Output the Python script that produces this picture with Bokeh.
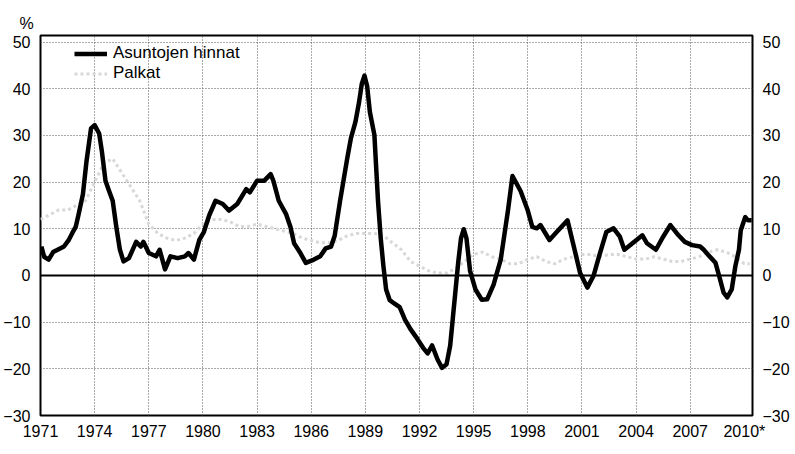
from bokeh.plotting import figure
from bokeh.models import (FixedTicker, LinearAxis, Span, Legend, LegendItem,
                          Title, Range1d)
from bokeh.embed import file_html
from bokeh.resources import INLINE

# Asuntojen hinnat (house prices, yearly change %)
house_x = [1971.05, 1971.2, 1971.45, 1971.7, 1971.95, 1972.3, 1972.55, 1972.75, 1972.95,
           1973.1, 1973.35, 1973.55, 1973.8, 1974.0, 1974.25, 1974.4, 1974.6, 1974.8,
           1975.0, 1975.2, 1975.4, 1975.6, 1975.9, 1976.3, 1976.55, 1976.7, 1977.0,
           1977.4, 1977.6, 1977.9, 1978.2, 1978.6, 1979.0, 1979.2, 1979.5, 1979.8,
           1980.05, 1980.35, 1980.7, 1981.1, 1981.45, 1981.9, 1982.4, 1982.6, 1983.0,
           1983.4, 1983.75, 1983.9, 1984.2, 1984.6, 1984.85, 1985.05, 1985.4, 1985.7,
           1986.15, 1986.5, 1986.8, 1987.1, 1987.3, 1987.6, 1988.0, 1988.2, 1988.45,
           1988.65, 1988.8, 1988.95, 1989.1, 1989.25, 1989.5, 1989.7, 1989.85, 1990.0,
           1990.15, 1990.35, 1990.6, 1990.9, 1991.2, 1991.5, 1991.9, 1992.2, 1992.45,
           1992.7, 1993.0, 1993.25, 1993.5, 1993.7, 1993.85, 1994.0, 1994.15, 1994.3,
           1994.45, 1994.6, 1994.8, 1995.1, 1995.45, 1995.75, 1996.1, 1996.5, 1996.9,
           1997.15, 1997.6, 1998.0, 1998.25, 1998.5, 1998.7, 1999.2, 1999.6, 2000.2,
           2000.55, 2000.9, 2001.3, 2001.65, 2002.0, 2002.35, 2002.75, 2003.1, 2003.35,
           2003.8, 2004.35, 2004.6, 2005.1, 2005.5, 2005.9, 2006.35, 2006.7, 2007.1,
           2007.55, 2007.75, 2008.0, 2008.4, 2008.65, 2008.85, 2009.05, 2009.3, 2009.5,
           2009.7, 2009.8, 2010.05, 2010.2, 2010.4]
house_y = [6.2, 4.0, 3.4, 5.0, 5.5, 6.2, 7.5, 9.0, 10.4,
           12.9, 17.4, 24.5, 31.5, 32.2, 30.4, 26.6, 20.3, 18.1,
           16.0, 10.4, 5.5, 3.0, 3.7, 7.2, 6.2, 7.2, 4.8,
           4.1, 5.5, 1.3, 4.1, 3.7, 4.1, 4.8, 3.4, 7.6,
           9.3, 12.9, 16.0, 15.3, 13.9, 15.3, 18.5, 17.8, 20.3,
           20.3, 21.7, 20.3, 16.0, 13.2, 10.4, 6.9, 4.8, 2.7,
           3.4, 4.1, 5.8, 6.2, 8.5, 16.0, 25.2, 29.4, 32.9,
           37.1, 41.0, 42.8, 40.5, 35.0, 30.1, 16.0, 8.0, 2.0,
           -3.0, -5.3, -6.0, -6.8, -9.5, -11.5, -13.7, -15.5, -16.7,
           -15.0, -18.0, -19.8, -19.0, -15.0, -9.0, -3.0, 3.0, 8.0,
           9.9, 8.0, 1.0, -3.0, -5.2, -5.1, -2.0, 3.4, 13.9,
           21.3, 18.1, 13.9, 10.4, 10.1, 10.8, 7.6, 9.3, 11.8,
           6.2, 0.5, -2.6, 0.0, 4.8, 9.3, 10.1, 8.3, 5.5,
           6.9, 8.6, 6.9, 5.5, 8.3, 10.8, 8.6, 7.2, 6.5,
           6.2, 5.5, 4.4, 2.7, -0.8, -3.7, -4.7, -3.0, 2.0,
           5.5, 9.7, 12.5, 11.8, 11.8]

# Palkat (wages, yearly change %)
wage_x = [1971.0, 1971.5, 1972.0, 1972.5, 1973.0, 1973.5, 1974.0, 1974.5, 1975.0, 1975.5,
          1976.0, 1976.5, 1977.0, 1977.5, 1978.0, 1978.5, 1979.0, 1979.5, 1980.0, 1980.5,
          1981.0, 1981.5, 1982.0, 1982.5, 1983.0, 1983.5, 1984.0, 1984.5, 1985.0, 1985.5,
          1986.0, 1986.5, 1987.0, 1987.5, 1988.0, 1988.5, 1989.0, 1989.5, 1990.0, 1990.5,
          1991.0, 1991.5, 1992.0, 1992.5, 1993.0, 1993.5, 1994.0, 1994.5, 1995.0, 1995.5,
          1996.0, 1996.5, 1997.0, 1997.5, 1998.0, 1998.5, 1999.0, 1999.5, 2000.0, 2000.5,
          2001.0, 2001.5, 2002.0, 2002.5, 2003.0, 2003.5, 2004.0, 2004.5, 2005.0, 2005.5,
          2006.0, 2006.5, 2007.0, 2007.5, 2008.0, 2008.5, 2009.0, 2009.5, 2010.0, 2010.3]
wage_y = [12.0, 13.0, 14.0, 14.0, 15.0, 16.0, 20.0, 24.0, 25.0, 22.0,
          19.0, 16.0, 11.0, 9.0, 8.0, 7.5, 8.0, 9.0, 11.0, 12.0,
          12.0, 11.5, 10.5, 10.5, 11.0, 10.5, 10.0, 9.5, 9.0, 8.0,
          7.5, 7.0, 7.0, 7.5, 8.5, 9.0, 9.0, 9.0, 8.5, 7.0,
          5.5, 3.0, 2.0, 1.0, 0.5, 0.5, 1.5, 3.0, 4.5, 5.0,
          4.0, 3.5, 2.5, 2.5, 3.5, 4.0, 3.0, 2.5, 3.5, 4.0,
          4.5, 4.5, 4.0, 4.5, 4.5, 4.0, 3.5, 3.5, 4.0, 3.5,
          3.0, 3.0, 3.5, 4.0, 5.0, 5.5, 5.0, 4.0, 2.5, 2.5]

x_ticks = list(range(1971, 2011, 3))
x_labels = [str(t) for t in x_ticks]
x_labels[-1] = "2010*"
y_ticks = list(range(-30, 51, 10))

FONT = "Liberation Sans"

p = figure(frame_width=712, frame_height=380,
           x_range=Range1d(1971, 2010.45), y_range=Range1d(-30, 51.4),
           output_backend="svg", toolbar_location=None,
           min_border_left=38, min_border_right=38,
           min_border_top=35, min_border_bottom=26,
           background_fill_color="white", border_fill_color="white")

p.title = Title(text="%", align="left", offset=-21, standoff=8,
                text_font=FONT, text_font_size="16px", text_font_style="normal",
                text_color="black")

p.outline_line_color = "black"
p.outline_line_width = 2

# axes
p.xaxis.ticker = FixedTicker(ticks=x_ticks)
p.xaxis.major_label_overrides = {t: l for t, l in zip(x_ticks, x_labels)}
p.yaxis.ticker = FixedTicker(ticks=y_ticks)
right = LinearAxis(ticker=FixedTicker(ticks=y_ticks))
p.add_layout(right, "right")

for ax in p.axis:
    ax.axis_line_color = None
    ax.major_tick_line_color = None
    ax.minor_tick_line_color = None
    ax.major_tick_out = 0
    ax.major_tick_in = 0
    ax.minor_tick_out = 0
    ax.minor_tick_in = 0
    ax.major_label_text_font = FONT
    ax.major_label_text_font_size = "16px"
    ax.major_label_text_color = "black"
    ax.major_label_standoff = 10
p.xaxis.major_label_standoff = 7

# grid
p.xgrid.ticker = FixedTicker(ticks=x_ticks[1:-1])
p.ygrid.ticker = FixedTicker(ticks=[t for t in y_ticks if t != 0])
for g in (p.xgrid, p.ygrid):
    g.grid_line_color = "#555555"
    g.grid_line_dash = "1 2"
    g.grid_line_width = 1

# zero line
p.add_layout(Span(location=0, dimension="width", line_color="black", line_width=2))

r_wage = p.line(wage_x, wage_y, line_color="#d8d8d8", line_width=3, line_dash="3 3")
r_house = p.line(house_x, house_y, line_color="black", line_width=4.5, line_join="round")

legend = Legend(items=[LegendItem(label="Asuntojen hinnat", renderers=[r_house]),
                       LegendItem(label="Palkat", renderers=[r_wage])],
                location=(34, 332), orientation="vertical",
                border_line_color=None, background_fill_alpha=0,
                padding=0, margin=0, spacing=0,
                glyph_width=33, glyph_height=17, label_height=17,
                label_standoff=6,
                label_text_font=FONT, label_text_font_size="17px",
                label_text_line_height=1.0,
                label_text_color="black")
p.add_layout(legend)

open("out.html", "w").write(file_html(p, INLINE))
